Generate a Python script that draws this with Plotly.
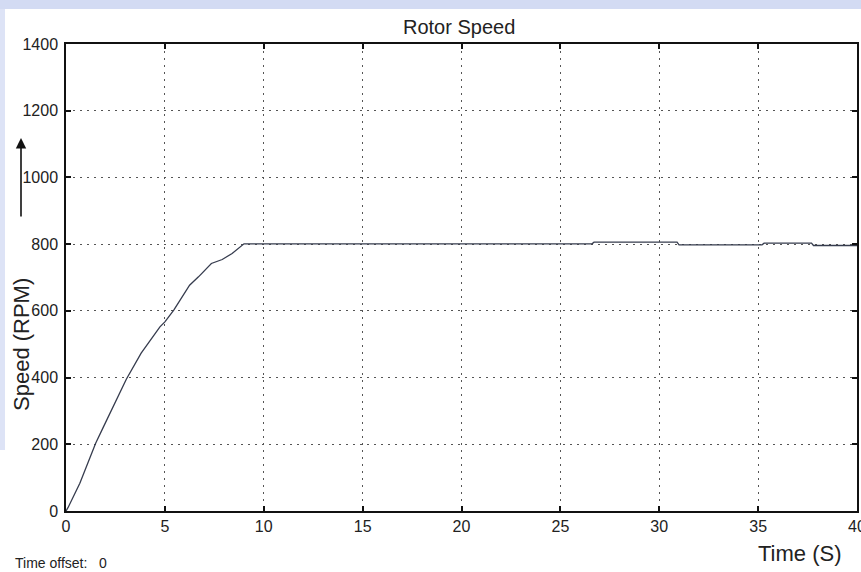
import plotly.graph_objects as go

# ---- data ----
time_s = [0, 0.1, 0.7, 1.2, 1.5, 1.9, 2.55, 3.05, 3.8, 4.75, 5.0, 5.45, 6.25, 6.7,
          7.35, 7.9, 8.4, 9.0, 10, 15, 20, 25, 26.6, 26.7, 30.9, 31.0, 35.2, 35.3,
          37.7, 37.8, 40]
speed_rpm = [0, 10, 83, 158, 203, 253, 333, 395, 473, 552, 567, 602, 677, 702,
             742, 754, 772, 801, 801, 801, 801, 801, 801, 806, 806, 798, 798, 803,
             803, 796, 796]
x_ticks = [0, 5, 10, 15, 20, 25, 30, 35, 40]
y_ticks = [0, 200, 400, 600, 800, 1000, 1200, 1400]

# layout geometry (pixels)
W, H = 861, 572
L, R, T, B = 66, 4, 44, 61
pw, ph = W - L - R, H - T - B


def px(x):
    return (x - L) / pw


def py(y):
    return (H - B - y) / ph


FONT = "Liberation Sans, Arial, sans-serif"

fig = go.Figure()
fig.add_trace(go.Scatter(
    x=time_s, y=speed_rpm, mode="lines",
    line=dict(color="#363c4e", width=1.3),
    showlegend=False, hoverinfo="skip",
))

axis_common = dict(
    showline=True, linecolor="#111", linewidth=1.5, mirror="ticks",
    ticks="inside", ticklen=5, tickcolor="#111", tickwidth=1.5,
    showgrid=True, gridcolor="#555", gridwidth=1, griddash="2px,5px",
    zeroline=False, ticklabeloverflow="allow", automargin=False,
    tickfont=dict(family=FONT, size=16, color="#222"),
)

fig.update_xaxes(range=[0, 40], tickvals=x_ticks, **axis_common)
fig.update_yaxes(range=[0, 1400], tickvals=y_ticks, ticklabelstandoff=3, **axis_common)

annotations = [
    dict(text="Rotor Speed", x=px(459), y=py(27), xref="paper", yref="paper",
         showarrow=False, font=dict(family=FONT, size=20, color="#222"),
         xanchor="center", yanchor="middle"),
    dict(text="Speed (RPM)", x=px(21), y=py(345), xref="paper", yref="paper",
         showarrow=False, textangle=-90,
         font=dict(family=FONT, size=22, color="#222"),
         xanchor="center", yanchor="middle"),
    dict(text="Time (S)", x=px(800), y=py(553), xref="paper", yref="paper",
         showarrow=False, font=dict(family=FONT, size=22, color="#222"),
         xanchor="center", yanchor="middle"),
    dict(text="Time offset:&nbsp;&nbsp;&nbsp;0", x=px(13), y=py(563), xref="paper", yref="paper",
         showarrow=False, font=dict(family=FONT, size=14, color="#222"),
         xanchor="left", yanchor="middle"),
    dict(text="", x=px(21), y=py(138), xref="paper", yref="paper",
         showarrow=True, ax=0, ay=80, arrowhead=2, arrowsize=1.3,
         arrowwidth=1.6, arrowcolor="#111", standoff=0),
]

shapes = [
    dict(type="rect", xref="paper", yref="paper", x0=px(0), x1=px(W),
         y0=py(9), y1=py(0), fillcolor="#d3dbf3", line=dict(width=0), layer="below"),
    dict(type="rect", xref="paper", yref="paper", x0=px(0), x1=px(5),
         y0=py(450), y1=py(9), fillcolor="#dde3f6", line=dict(width=0), layer="below"),
]

fig.update_layout(
    width=W, height=H,
    margin=dict(l=L, r=R, t=T, b=B),
    paper_bgcolor="white", plot_bgcolor="white",
    annotations=annotations, shapes=shapes,
)

fig.write_html(
    "out.html",
    config={"displayModeBar": False},
    post_script="document.body.style.margin='0';document.body.style.overflow='hidden';",
)
